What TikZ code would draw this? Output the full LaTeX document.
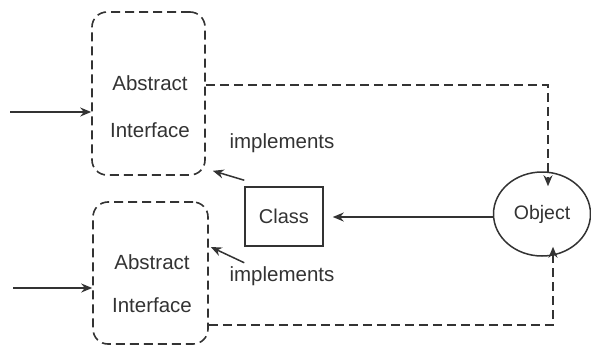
\documentclass[tikz,border=0pt]{standalone}
\usepackage{fontspec}
\setmainfont{Liberation Sans}
\usetikzlibrary{arrows.meta,shapes.geometric}
\definecolor{ink}{HTML}{333333}
\tikzset{
  ifbox/.style={draw=ink, line width=1.6pt, dash pattern=on 9pt off 5pt, rounded corners=15pt, minimum width=113pt, minimum height=163pt, inner sep=0pt},
  iftext/.style={align=center, inner sep=0pt, font=\fontsize{20.5}{47}\selectfont, text=ink},
  clsbox/.style={draw=ink, line width=1.5pt, minimum width=78pt, minimum height=59pt, inner sep=0pt, font=\fontsize{20}{22}\selectfont, text=ink},
  objell/.style={draw=ink, line width=1.5pt, ellipse, minimum width=97pt, minimum height=84pt, inner sep=0pt, font=\fontsize{19.5}{22}\selectfont, text=ink},
  lbl/.style={font=\fontsize{20.5}{22}\selectfont, text=ink},
  tip/.style={-{Stealth[length=11pt,width=9pt]}},
  conn/.style={draw=ink, line width=1.5pt, tip},
  dconn/.style={draw=ink, line width=1.6pt, dash pattern=on 9pt off 5pt, tip}
}
\begin{document}
\begin{tikzpicture}[x=1pt,y=-1pt]
\useasboundingbox (0,0) rectangle (591,348);
\node[ifbox] (top) at (148.5,93.5) {};
\node[iftext] (toptxt) at (150,107) {Abstract\\Interface};
\node[ifbox, minimum width=115pt, minimum height=142pt] (bot) at (150.5,273) {};
\node[iftext, font=\fontsize{20.5}{43}\selectfont] (bottxt) at (152,284) {Abstract\\Interface};
\node[clsbox] (cls) at (284,216.5) {Class};
\node[objell] (obj) at (542,214) {Object};
\node[lbl] (imp1) at (282,143) {implements};
\node[lbl] (imp2) at (282,276) {implements};
\coordinate (in1) at (10,112);
\coordinate (in2) at (13,288);
% inputs
\draw[conn] (in1) -- (in1 -| top.west);
\draw[conn] (in2) -- (in2 -| bot.west);
% object -> class
\draw[conn] (obj.west |- 0,217) -- ([xshift=9pt]cls.east |- 0,217);
% class -> interfaces
\draw[conn] ([yshift=6pt]cls.north west) -- ([shift={(7pt,5pt)}]top.south east);
\draw[conn] ([yshift=-16pt]cls.south west) -- ([xshift=2pt]bot.east |- 0,247);
% dashed links to object
\draw[dconn] (top.east |- 0,85) -| ([xshift=6pt,yshift=-15pt]obj.north);
\draw[dconn] (bot.east |- 0,325) -| ([xshift=11pt,yshift=10pt]obj.south);
\end{tikzpicture}
\end{document}
